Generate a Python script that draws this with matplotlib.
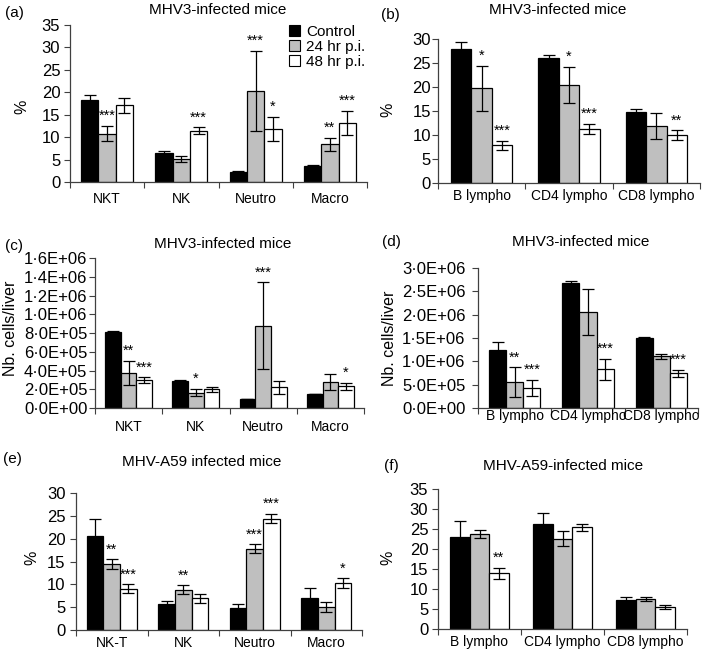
import numpy as np
import matplotlib.pyplot as plt
from matplotlib.ticker import FuncFormatter
from matplotlib.patches import Patch

plt.rcParams['font.family'] = ['Liberation Sans', 'DejaVu Sans']

series_names = ['Control', '24 hr p.i.', '48 hr p.i.']
bar_colors = ['black', '#bfbfbf', 'white']

# (a) MHV3, % of cells
cats_a = ['NKT', 'NK', 'Neutro', 'Macro']
ctrl_a = [18.3, 6.5, 2.3, 3.6]
ctrl_a_err = [1.0, 0.4, 0.2, 0.3]
h24_a = [10.8, 5.1, 20.3, 8.4]
h24_a_err = [1.7, 0.65, 9.0, 1.5]
h48_a = [17.1, 11.4, 11.8, 13.2]
h48_a_err = [1.7, 0.8, 2.7, 2.7]
stars_a_24 = ['***', '', '***', '**']
stars_a_48 = ['', '***', '*', '***']

# (b) MHV3, % lymphocytes
cats_b = ['B lympho', 'CD4 lympho', 'CD8 lympho']
ctrl_b = [27.9, 26.0, 14.8]
ctrl_b_err = [1.4, 0.75, 0.6]
h24_b = [19.7, 20.5, 11.8]
h24_b_err = [4.75, 3.75, 2.7]
h48_b = [7.9, 11.3, 10.0]
h48_b_err = [0.95, 1.0, 1.0]
stars_b_24 = ['*', '*', '']
stars_b_48 = ['***', '***', '**']

# (c) MHV3, cells per liver
cats_c = ['NKT', 'NK', 'Neutro', 'Macro']
ctrl_c = [8.1e5, 2.9e5, 0.96e5, 1.5e5]
ctrl_c_err = [1.5e4, 0.5e4, 0.3e4, 0.3e4]
h24_c = [3.75e5, 1.64e5, 8.8e5, 2.8e5]
h24_c_err = [1.3e5, 0.4e5, 4.6e5, 0.87e5]
h48_c = [3.0e5, 2.0e5, 2.2e5, 2.3e5]
h48_c_err = [0.3e5, 0.25e5, 0.68e5, 0.41e5]
stars_c_24 = ['**', '*', '***', '']
stars_c_48 = ['***', '', '', '*']

# (d) MHV3, lymphocytes per liver
cats_d = ['B lympho', 'CD4 lympho', 'CD8 lympho']
ctrl_d = [1.25e6, 2.68e6, 1.507e6]
ctrl_d_err = [0.16e6, 0.05e6, 0.015e6]
h24_d = [0.557e6, 2.06e6, 1.11e6]
h24_d_err = [0.32e6, 0.5e6, 0.055e6]
h48_d = [0.43e6, 0.83e6, 0.74e6]
h48_d_err = [0.18e6, 0.22e6, 0.085e6]
stars_d_24 = ['**', '', '']
stars_d_48 = ['***', '***', '***']

# (e) MHV-A59, % of cells
cats_e = ['NK-T', 'NK', 'Neutro', 'Macro']
ctrl_e = [20.5, 5.8, 4.8, 7.0]
ctrl_e_err = [3.9, 0.45, 0.95, 2.1]
h24_e = [14.4, 8.8, 17.8, 5.05]
h24_e_err = [1.05, 1.0, 1.0, 1.0]
h48_e = [9.0, 6.9, 24.4, 10.3]
h48_e_err = [1.0, 0.95, 1.0, 1.0]
stars_e_24 = ['**', '**', '***', '']
stars_e_48 = ['***', '', '***', '*']

# (f) MHV-A59, % lymphocytes
cats_f = ['B lympho', 'CD4 lympho', 'CD8 lympho']
ctrl_f = [22.9, 26.2, 7.3]
ctrl_f_err = [4.2, 2.8, 0.75]
h24_f = [23.7, 22.6, 7.5]
h24_f_err = [1.0, 1.8, 0.6]
h48_f = [13.9, 25.4, 5.5]
h48_f_err = [1.45, 0.85, 0.5]
stars_f_24 = ['', '', '']
stars_f_48 = ['**', '', '']

W, H = 709, 654
fig = plt.figure(figsize=(W / 100, H / 100), dpi=100)


def px_axes(x0, y_top, x1, y_bot):
    return fig.add_axes([x0 / W, 1 - y_bot / H, (x1 - x0) / W, (y_bot - y_top) / H])


def sci_dot(v, pos):
    return f'{v:.1E}'.replace('.', '\u00b7')


def panel(ax, cats, vals, errs, stars, ymax, ystep, pad, ypad, sci=False):
    n = len(cats)
    x = np.arange(n)
    bw = 0.233
    for k in range(3):
        xs = x + (k - 1) * bw
        ax.bar(xs, vals[k], bw, color=bar_colors[k], edgecolor='black',
               linewidth=0.9, zorder=2)
        ax.errorbar(xs, vals[k], yerr=errs[k], fmt='none', ecolor='black',
                    elinewidth=0.9, capsize=4, capthick=0.9, zorder=3)
        if stars[k] is None:
            continue
        for xi, v, e, s in zip(xs, vals[k], errs[k], stars[k]):
            if s:
                ax.annotate(s, (xi, v + e), xytext=(0, 2), textcoords='offset points',
                            ha='center', va='bottom', fontsize=10.5)
    ax.set_xlim(-0.5, n - 0.5)
    ax.set_ylim(0, ymax)
    ax.set_yticks(np.arange(0, ymax + ystep / 2, ystep))
    if sci:
        ax.yaxis.set_major_formatter(FuncFormatter(sci_dot))
    ax.set_xticks(np.arange(n + 1) - 0.5)
    ax.set_xticklabels([])
    ax.set_xticks(x, minor=True)
    ax.set_xticklabels(cats, minor=True, fontsize=10)
    ax.tick_params(axis='x', which='minor', length=0, pad=pad)
    ax.tick_params(axis='x', which='major', length=4, direction='out', color='#404040')
    ax.tick_params(axis='y', length=4, direction='out', labelsize=12, pad=ypad, color='#404040')
    for sp in ['top', 'right']:
        ax.spines[sp].set_visible(False)
    for sp in ['left', 'bottom']:
        ax.spines[sp].set_color('#404040')
        ax.spines[sp].set_linewidth(0.9)


ax_a = px_axes(70, 25, 367, 182)
panel(ax_a, cats_a, [ctrl_a, h24_a, h48_a], [ctrl_a_err, h24_a_err, h48_a_err],
      [None, stars_a_24, stars_a_48], 35, 5, 7, 3)

ax_b = px_axes(438, 39, 700, 183)
panel(ax_b, cats_b, [ctrl_b, h24_b, h48_b], [ctrl_b_err, h24_b_err, h48_b_err],
      [None, stars_b_24, stars_b_48], 30, 5, 4, 1)

ax_c = px_axes(95, 258, 364, 408)
panel(ax_c, cats_c, [ctrl_c, h24_c, h48_c], [ctrl_c_err, h24_c_err, h48_c_err],
      [None, stars_c_24, stars_c_48], 1.6e6, 2e5, 8.5, 1.5, sci=True)

ax_d = px_axes(478, 268, 698, 408)
panel(ax_d, cats_d, [ctrl_d, h24_d, h48_d], [ctrl_d_err, h24_d_err, h48_d_err],
      [None, stars_d_24, stars_d_48], 3e6, 5e5, 0.5, 5, sci=True)

ax_e = px_axes(76, 493, 362, 630)
panel(ax_e, cats_e, [ctrl_e, h24_e, h48_e], [ctrl_e_err, h24_e_err, h48_e_err],
      [None, stars_e_24, stars_e_48], 30, 5, 4.5, 3.5)

ax_f = px_axes(438, 489, 687, 629)
panel(ax_f, cats_f, [ctrl_f, h24_f, h48_f], [ctrl_f_err, h24_f_err, h48_f_err],
      [None, stars_f_24, stars_f_48], 35, 5, 4.5, 3)


def ftext(x, y, s, **kw):
    fig.text(x / W, 1 - y / H, s, ha='center', va='center', **kw)


# titles
ftext(218, 10, 'MHV3-infected mice', fontsize=11)
ftext(558, 10, 'MHV3-infected mice', fontsize=11)
ftext(223, 244, 'MHV3-infected mice', fontsize=11)
ftext(581, 242, 'MHV3-infected mice', fontsize=11)
ftext(202, 462, 'MHV-A59 infected mice', fontsize=11)
ftext(563, 466, 'MHV-A59-infected mice', fontsize=11)

# panel letters
ftext(14, 13, '(a)', fontsize=11)
ftext(390, 15, '(b)', fontsize=11)
ftext(14, 246, '(c)', fontsize=11)
ftext(391, 242, '(d)', fontsize=11)
ftext(12, 459, '(e)', fontsize=11)
ftext(391, 466, '(f)', fontsize=11)

# y labels
ftext(22, 107, '%', fontsize=11.5, rotation=90)
ftext(388, 110, '%', fontsize=11.5, rotation=90)
ftext(11, 328, 'Nb. cells/liver', fontsize=11.5, rotation=90)
ftext(390, 338, 'Nb. cells/liver', fontsize=11.5, rotation=90)
ftext(32, 558, '%', fontsize=11.5, rotation=90)
ftext(388, 558, '%', fontsize=11.5, rotation=90)

handles = [Patch(facecolor=c, edgecolor='black', linewidth=0.8) for c in bar_colors]
fig.legend(handles, series_names, loc='upper left', bbox_to_anchor=(289 / W, 1 - 25 / H),
           frameon=False, fontsize=11, handlelength=0.7, handleheight=0.7,
           handletextpad=0.4, labelspacing=0.05, borderpad=0, borderaxespad=0)

fig.savefig('out.png', dpi=100)
